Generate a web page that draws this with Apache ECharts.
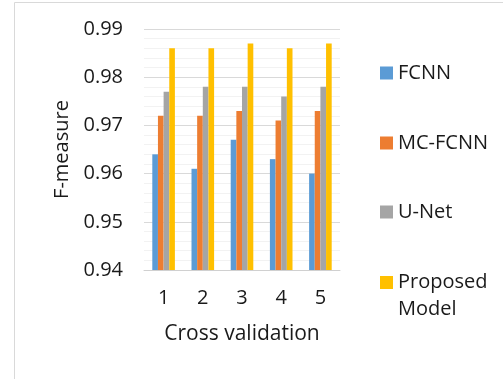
<!DOCTYPE html>
<html>
<head>
<meta charset="utf-8">
<script src="https://cdn.jsdelivr.net/npm/echarts@6/dist/echarts.min.js"></script>
<style>html,body{margin:0;padding:0;background:#fff}#c{width:503px;height:379px}</style>
</head>
<body>
<div id="c"></div>
<script>
const categories = ['1', '2', '3', '4', '5'];
const seriesNames = ['FCNN', 'MC-FCNN', 'U-Net', 'Proposed Model'];
const fcnn = [0.964, 0.961, 0.967, 0.963, 0.960];
const mcFcnn = [0.972, 0.972, 0.973, 0.971, 0.973];
const unet = [0.977, 0.978, 0.978, 0.976, 0.978];
const proposed = [0.986, 0.986, 0.987, 0.986, 0.987];
const yTicks = [0.94, 0.95, 0.96, 0.97, 0.98, 0.99];

const colors = ['#5b9bd5', '#ed7d31', '#a5a5a5', '#ffc000'];
const values = [fcnn, mcFcnn, unet, proposed];
const font = '"Open Sans", sans-serif';
const txt = '#1a1a1a';

const chart = echarts.init(document.getElementById('c'));
const legendTops = [63, 133, 202];
const legends = seriesNames.slice(0, 3).map((n, i) => ({
  data: [n], left: 380, top: legendTops[i], orient: 'vertical', padding: 0,
  itemWidth: 13, itemHeight: 13, itemGap: 0, icon: 'rect',
  textStyle: { fontFamily: font, fontSize: 20, color: txt, lineHeight: 20, padding: [0, 0, 0, 0] },
  selectedMode: false
}));
legends.push({
  data: [{ name: seriesNames[3], icon: 'path://M0,7H13V20H0Z M0,0L0.01,0 M0,54L0.01,54' }],
  left: 380, top: 269, orient: 'vertical', padding: 0,
  itemWidth: 13, itemHeight: 54, itemGap: 0,
  formatter: () => 'Proposed\nModel',
  textStyle: { fontFamily: font, fontSize: 20, color: txt, lineHeight: 27 },
  selectedMode: false
});

chart.setOption({
  animation: false,
  textStyle: { fontFamily: font },
  graphic: [{ type: 'rect', shape: { x: 14.5, y: 2.5, width: 600, height: 500 }, style: { fill: 'none', stroke: '#d9d9d9', lineWidth: 1 }, silent: true }],
  legend: legends,
  grid: { left: 144, right: 163, top: 29, bottom: 109 },
  xAxis: {
    type: 'category', data: categories,
    name: 'Cross validation', nameLocation: 'middle', nameGap: 54,
    nameTextStyle: { fontFamily: font, fontSize: 21, color: txt },
    axisLine: { show: true, lineStyle: { color: '#d0d0d0', width: 1 } },
    axisTick: { show: false },
    axisLabel: { fontFamily: font, fontSize: 20, color: txt, margin: 18 }
  },
  yAxis: {
    type: 'value', min: 0.94, max: 0.99, interval: 0.01,
    name: 'F-measure', nameLocation: 'middle', nameGap: 72, nameRotate: 90,
    nameTextStyle: { fontFamily: font, fontSize: 20, color: txt },
    axisLine: { show: false }, axisTick: { show: false },
    axisLabel: { fontFamily: font, fontSize: 20, color: txt, margin: 21,
      formatter: v => { const t = yTicks.find(x => Math.abs(x - v) < 1e-9); return t !== undefined ? t.toFixed(2) : ''; } },
    splitLine: { lineStyle: { color: '#d9d9d9', width: 1 } },
    minorTick: { show: false, splitNumber: 5 },
    minorSplitLine: { show: true, lineStyle: { color: '#f2f2f2', width: 1 } }
  },
  series: seriesNames.map((n, i) => ({
    name: n, type: 'bar', data: values[i], barWidth: 5.65, barGap: '0%',
    itemStyle: { color: colors[i] }
  }))
});
</script>
</body>
</html>
